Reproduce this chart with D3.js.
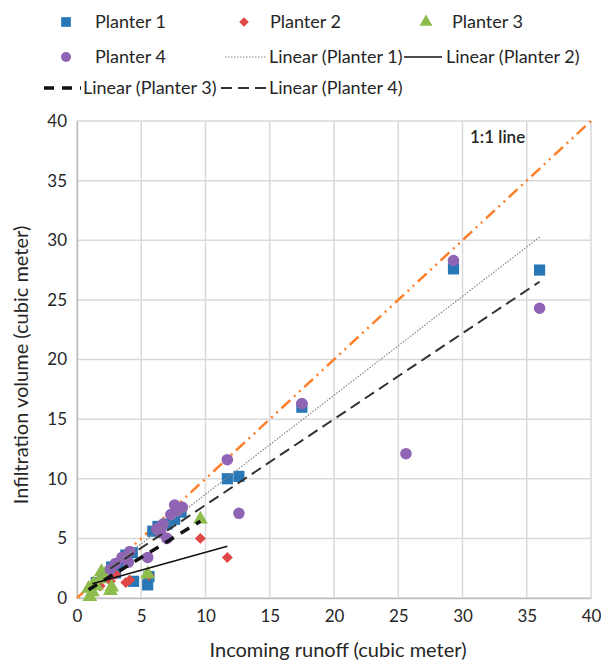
<!DOCTYPE html>
<html><head><meta charset="utf-8">
<script src="https://cdn.jsdelivr.net/npm/d3@7"></script>
<style>body{margin:0;background:#fff}svg{display:block}text{font-family:Lato,"Open Sans",sans-serif;fill:#262626}</style>
</head><body><svg id="c" width="601" height="662"></svg>
<script>
// ---- data ----
const planter1 = [[36.0,27.5],[29.3,27.6],[17.5,16.0],[11.7,10.0],[12.6,10.2],[7.6,6.6],[8.1,7.2],[7.0,6.2],[6.3,6.0],[5.9,5.6],[4.3,3.8],[3.8,3.6],[3.2,2.8],[2.7,2.6],[4.4,1.4],[5.5,1.1],[5.6,1.8],[2.6,2.1],[1.5,1.3],[3.0,2.1]];
const planter2 = [[11.7,3.4],[9.6,5.0],[5.6,1.9],[4.1,1.5],[3.8,1.3],[2.6,1.4],[1.8,1.0],[1.2,0.8],[3.0,2.0]];
const planter3 = [[9.6,6.6],[5.5,2.0],[2.7,0.9],[1.0,0.1],[1.2,0.5],[0.9,0.8],[1.5,1.0],[1.8,1.6],[2.2,2.0],[1.3,1.2],[1.9,2.2],[2.6,0.6]];
const planter4 = [[36.0,24.3],[29.3,28.3],[25.6,12.1],[17.5,16.3],[11.7,11.6],[12.6,7.1],[8.2,7.6],[7.8,7.3],[7.3,7.0],[6.7,6.2],[6.2,5.8],[6.5,5.5],[7.0,5.0],[5.5,3.4],[4.1,3.9],[3.5,3.4],[3.0,2.9],[2.6,2.4],[4.0,3.0],[7.6,7.8]];
const trendSlope = [0.83, 0.30, 0.66, 0.72];
const trendIntercept = [0.4, 0.83, 0.1, 0.6];
const seriesNames = ["Planter 1","Planter 2","Planter 3","Planter 4"];
const trendNames = ["Linear (Planter 1)","Linear (Planter 2)","Linear (Planter 3)","Linear (Planter 4)"];
const ticks = [0,5,10,15,20,25,30,35,40];
const oneToOne = [[0,0],[40,40]];

const colors = ["#2878b8","#e04848","#8cbd4c","#9064b4"];
const shapes = [d3.symbolSquare, d3.symbolSquare, d3.symbolTriangle, d3.symbolCircle];
const rot = [0, 45, 0, 0];
const sizes = [125, 60, 95, 105];
const trendStyle = [
  {w:1.2, dash:"1.5,1.5", c:"#888"},
  {w:1.5, dash:null, c:"#111"},
  {w:3.5, dash:"10,8", c:"#111"},
  {w:2, dash:"11,6", c:"#333"}
];

const svg = d3.select("#c");
const x = d3.scaleLinear().domain([0,40]).range([77,591]);
const y = d3.scaleLinear().domain([0,40]).range([598,121]);

// grid
const g = svg.append("g");
g.selectAll(".gx").data(ticks).join("line")
  .attr("x1",d=>x(d)).attr("x2",d=>x(d)).attr("y1",y(0)).attr("y2",y(40))
  .attr("stroke","#d9d9d9").attr("stroke-width",1.5);
g.selectAll(".gy").data(ticks).join("line")
  .attr("y1",d=>y(d)).attr("y2",d=>y(d)).attr("x1",x(0)).attr("x2",x(40))
  .attr("stroke","#d9d9d9").attr("stroke-width",1.5);

// axes
const xa = svg.append("g").attr("transform",`translate(0,${y(0)})`)
  .call(d3.axisBottom(x).tickValues(ticks).tickSize(0).tickPadding(12));
const ya = svg.append("g").attr("transform",`translate(${x(0)},0)`)
  .call(d3.axisLeft(y).tickValues(ticks).tickSize(0).tickPadding(10));
[xa,ya].forEach(a=>{a.select(".domain").attr("stroke","#bfbfbf").attr("stroke-width",1.5);
  a.selectAll("text").style("font-size","17px").style("font-family","Lato").attr("fill","#333");});

// 1:1 line
svg.append("path").datum(oneToOne)
  .attr("d", d3.line().x(d=>x(d[0])).y(d=>y(d[1])))
  .attr("stroke","#ff7f2a").attr("stroke-width",2.5).attr("fill","none")
  .attr("stroke-dasharray","12,5,2,5,2,5");
svg.append("text").attr("x",470).attr("y",143).text("1:1 line")
  .style("font-size","17px").style("font-weight","600").attr("fill","#222");

// points
const all = [planter1,planter2,planter3,planter4];
all.forEach((s,i)=>{
  svg.append("g").selectAll("path").data(s).join("path")
    .attr("transform",d=>`translate(${x(d[0])},${y(d[1])}) rotate(${rot[i]})`)
    .attr("d", d3.symbol().type(shapes[i]).size(sizes[i]))
    .attr("fill",colors[i]);
});

// trendlines
all.forEach((s,i)=>{
  const ext = d3.extent(s, d=>d[0]);
  const pts = ext.map(v=>[v, trendSlope[i]*v+trendIntercept[i]]);
  const st = trendStyle[i];
  svg.append("path").datum(pts)
    .attr("d", d3.line().x(d=>x(d[0])).y(d=>y(d[1])))
    .attr("stroke",st.c).attr("stroke-width",st.w).attr("fill","none")
    .attr("stroke-dasharray",st.dash);
});

// axis titles
svg.append("text").attr("x",338).attr("y",657).attr("text-anchor","middle")
  .text("Incoming runoff (cubic meter)").style("font-size","20px");
svg.append("text").attr("transform","translate(28,365) rotate(-90)").attr("text-anchor","middle")
  .text("Infiltration volume (cubic meter)").style("font-size","20px");

// legend
const leg = svg.append("g").style("font-size","18px");
const symPos = [[66,22],[244,22],[426,22],[66,57]];
const txtPos = [[95,28],[270,28],[452,28],[95,63]];
seriesNames.forEach((n,i)=>{
  leg.append("path").attr("transform",`translate(${symPos[i][0]},${symPos[i][1]}) rotate(${rot[i]})`)
    .attr("d", d3.symbol().type(shapes[i]).size(sizes[i]*0.75)).attr("fill",colors[i]);
  leg.append("text").attr("x",txtPos[i][0]).attr("y",txtPos[i][1]).text(n);
});
const linePos = [[225,266,57],[404,442,57],[44,81,88],[221,268,88]];
const lTxt = [[269,63],[446,63],[83,94],[269,94]];
trendNames.forEach((n,i)=>{
  const st = trendStyle[i];
  leg.append("line").attr("x1",linePos[i][0]).attr("x2",linePos[i][1]).attr("y1",linePos[i][2]).attr("y2",linePos[i][2])
    .attr("stroke",st.c).attr("stroke-width",st.w).attr("stroke-dasharray",st.dash);
  leg.append("text").attr("x",lTxt[i][0]).attr("y",lTxt[i][1]).text(n);
});
</script></body></html>
